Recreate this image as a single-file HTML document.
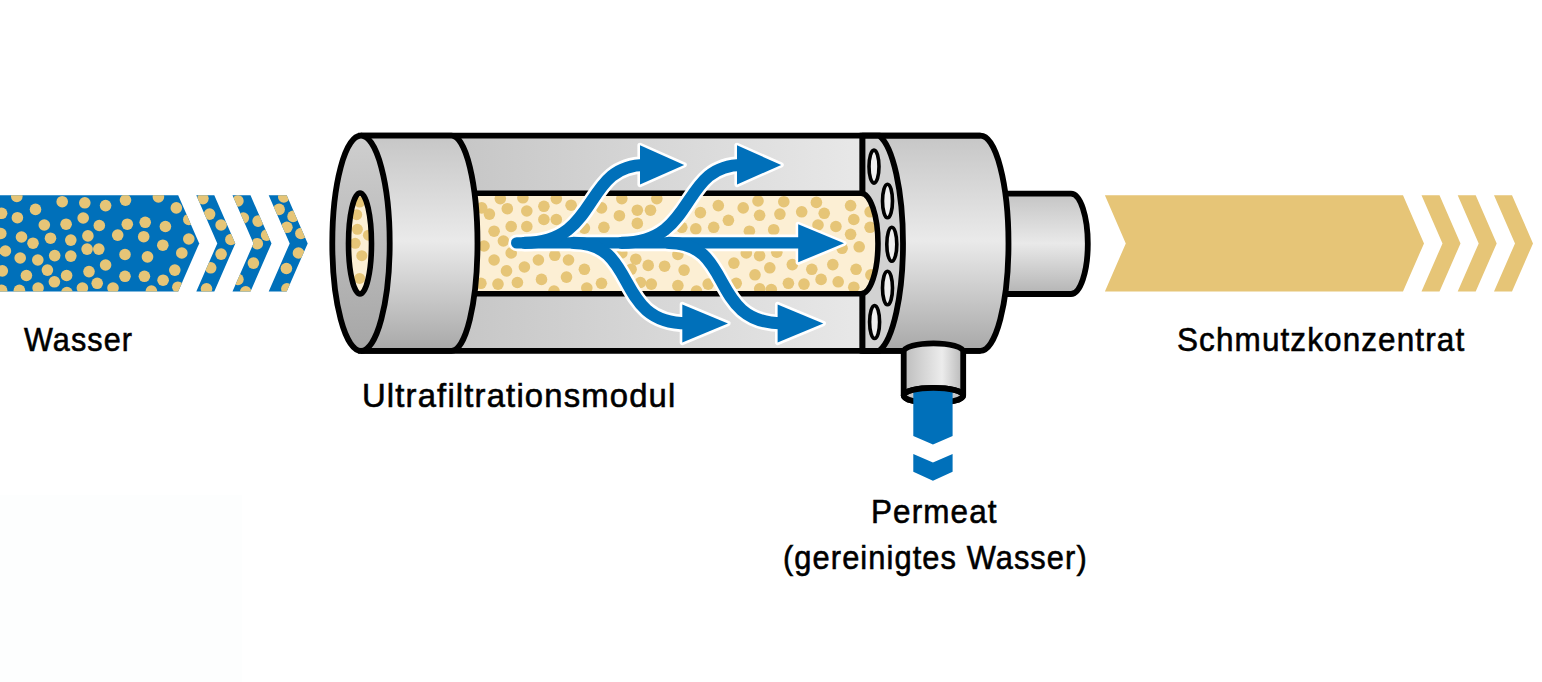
<!DOCTYPE html>
<html><head><meta charset="utf-8"><style>
html,body{margin:0;padding:0;background:#fff;width:1542px;height:682px;overflow:hidden}
.t{position:absolute;font-family:"Liberation Sans",sans-serif;color:#000;white-space:nowrap;line-height:1;transform-origin:0 0;-webkit-text-stroke:0.6px #000;font-size:34px;letter-spacing:1.2px}
svg{position:absolute;left:0;top:0}
</style></head><body>
<svg width="1542" height="682" viewBox="0 0 1542 682">
<defs>
  <clipPath id="cb"><polygon points="0,195.3 178.2,195.3 199.2,243.4 178.2,291.5 0,291.5"/><polygon points="196.3,195.3 214.3,195.3 235.3,243.4 214.3,291.5 196.3,291.5 217.3,243.4"/><polygon points="232.5,195.3 250.5,195.3 271.5,243.4 250.5,291.5 232.5,291.5 253.5,243.4"/><polygon points="268.7,195.3 286.7,195.3 307.7,243.4 286.7,291.5 268.7,291.5 289.7,243.4"/></clipPath>
  <clipPath id="cf"><path d="M440,193.2 H861 A17,50.3 0 0 1 861,293.8 H440 Z"/></clipPath>
  <clipPath id="ch"><ellipse cx="360" cy="243.5" rx="11.5" ry="50.5"/></clipPath>
  <linearGradient id="gcap" x1="0" y1="135" x2="0" y2="351" gradientUnits="userSpaceOnUse">
    <stop offset="0" stop-color="#c6c6c6"/>
    <stop offset="0.49" stop-color="#eaeaea"/>
    <stop offset="1" stop-color="#a8a8a8"/>
  </linearGradient>
  <linearGradient id="gface" x1="0" y1="135" x2="0" y2="351" gradientUnits="userSpaceOnUse">
    <stop offset="0" stop-color="#cfcfcf"/>
    <stop offset="1" stop-color="#a6a6a6"/>
  </linearGradient>
  <linearGradient id="ghouse" x1="455" y1="0" x2="862" y2="0" gradientUnits="userSpaceOnUse">
    <stop offset="0" stop-color="#c6c6c6"/>
    <stop offset="1" stop-color="#e8e8e8"/>
  </linearGradient>
  <linearGradient id="gout" x1="0" y1="193" x2="0" y2="294" gradientUnits="userSpaceOnUse">
    <stop offset="0" stop-color="#c4c4c4"/>
    <stop offset="0.5" stop-color="#e9e9e9"/>
    <stop offset="1" stop-color="#b4b4b4"/>
  </linearGradient>
  <linearGradient id="gperm" x1="903" y1="0" x2="963" y2="0" gradientUnits="userSpaceOnUse">
    <stop offset="0" stop-color="#bcbcbc"/>
    <stop offset="0.65" stop-color="#ececec"/>
    <stop offset="1" stop-color="#b8b8b8"/>
  </linearGradient>
</defs>

<rect x="0" y="495" width="242" height="187" fill="#fdfefe"/>
<g fill="#0070ba"><polygon points="0,195.3 178.2,195.3 199.2,243.4 178.2,291.5 0,291.5"/><polygon points="196.3,195.3 214.3,195.3 235.3,243.4 214.3,291.5 196.3,291.5 217.3,243.4"/><polygon points="232.5,195.3 250.5,195.3 271.5,243.4 250.5,291.5 232.5,291.5 253.5,243.4"/><polygon points="268.7,195.3 286.7,195.3 307.7,243.4 286.7,291.5 268.7,291.5 289.7,243.4"/></g>
<g clip-path="url(#cb)" fill="#e6c577"><circle cx="16.8" cy="196.5" r="5.8"/><circle cx="62.2" cy="201.7" r="5.8"/><circle cx="84.8" cy="202.8" r="5.8"/><circle cx="35.5" cy="209.4" r="5.8"/><circle cx="1.6" cy="213.3" r="5.8"/><circle cx="17.4" cy="217.7" r="5.8"/><circle cx="83.2" cy="218" r="5.8"/><circle cx="44.3" cy="225" r="5.8"/><circle cx="66.1" cy="224.2" r="5.8"/><circle cx="99.3" cy="225.5" r="5.8"/><circle cx="0.8" cy="233.5" r="5.8"/><circle cx="21.5" cy="237" r="5.8"/><circle cx="50.5" cy="238.2" r="5.8"/><circle cx="70.8" cy="240.1" r="5.8"/><circle cx="87.9" cy="235.9" r="5.8"/><circle cx="33" cy="243.2" r="5.8"/><circle cx="5.4" cy="251" r="5.8"/><circle cx="20.2" cy="258" r="5.8"/><circle cx="37.8" cy="260" r="5.8"/><circle cx="54.7" cy="255.6" r="5.8"/><circle cx="70.8" cy="256.1" r="5.8"/><circle cx="87.1" cy="249.1" r="5.8"/><circle cx="98.8" cy="249.1" r="5.8"/><circle cx="2.3" cy="270.9" r="5.8"/><circle cx="47.4" cy="270.1" r="5.8"/><circle cx="26.4" cy="275.5" r="5.8"/><circle cx="66.6" cy="275.5" r="5.8"/><circle cx="89" cy="271.6" r="5.8"/><circle cx="54.4" cy="281.8" r="5.8"/><circle cx="97.2" cy="283.3" r="5.8"/><circle cx="38.1" cy="288" r="5.8"/><circle cx="19.4" cy="290.3" r="5.8"/><circle cx="82.4" cy="288" r="5.8"/><circle cx="1.6" cy="290.3" r="5.8"/><circle cx="66.9" cy="292.6" r="5.8"/><circle cx="105.6" cy="205.6" r="5.8"/><circle cx="125.5" cy="200.1" r="5.8"/><circle cx="158.4" cy="197" r="5.8"/><circle cx="176.3" cy="207.9" r="5.8"/><circle cx="127.3" cy="224.2" r="5.8"/><circle cx="145.2" cy="222.3" r="5.8"/><circle cx="165.4" cy="226.5" r="5.8"/><circle cx="188.8" cy="219.5" r="5.8"/><circle cx="117.7" cy="235.1" r="5.8"/><circle cx="143.7" cy="236.7" r="5.8"/><circle cx="162.8" cy="245.2" r="5.8"/><circle cx="188.8" cy="239" r="5.8"/><circle cx="125" cy="254.5" r="5.8"/><circle cx="147.5" cy="256.9" r="5.8"/><circle cx="181.8" cy="253" r="5.8"/><circle cx="105.6" cy="265" r="5.8"/><circle cx="174.8" cy="270.1" r="5.8"/><circle cx="125" cy="276.3" r="5.8"/><circle cx="144.4" cy="276.3" r="5.8"/><circle cx="163.1" cy="280.2" r="5.8"/><circle cx="113" cy="288" r="5.8"/><circle cx="151.4" cy="291.1" r="5.8"/><circle cx="177.9" cy="287.2" r="5.8"/><circle cx="202.9" cy="198.6" r="5.8"/><circle cx="209.6" cy="214.1" r="5.8"/><circle cx="221.1" cy="225" r="5.8"/><circle cx="230.9" cy="239.5" r="5.8"/><circle cx="221.1" cy="254.1" r="5.8"/><circle cx="210.7" cy="267.8" r="5.8"/><circle cx="206.5" cy="288.8" r="5.8"/><circle cx="237.9" cy="200.9" r="5.8"/><circle cx="243.3" cy="218" r="5.8"/><circle cx="258.1" cy="221.1" r="5.8"/><circle cx="266.6" cy="235.1" r="5.8"/><circle cx="257.3" cy="243.7" r="5.8"/><circle cx="253.4" cy="263.1" r="5.8"/><circle cx="237.9" cy="279.4" r="5.8"/><circle cx="245.7" cy="291.9" r="5.8"/><circle cx="283.8" cy="197" r="5.8"/><circle cx="279.1" cy="209.4" r="5.8"/><circle cx="293.1" cy="216.4" r="5.8"/><circle cx="286.9" cy="227.3" r="5.8"/><circle cx="300.9" cy="233.5" r="5.8"/><circle cx="298.5" cy="253" r="5.8"/><circle cx="286.4" cy="268.5" r="5.8"/><circle cx="286.9" cy="288.8" r="5.8"/></g>

<g fill="#e6c577"><polygon points="1104.9,195.3 1403,195.3 1424,243.4 1403,291.5 1104.9,291.5 1125.8,243.4"/><polygon points="1421.5,195.3 1439.5,195.3 1460.5,243.4 1439.5,291.5 1421.5,291.5 1442.5,243.4"/><polygon points="1457.7,195.3 1475.7,195.3 1496.7,243.4 1475.7,291.5 1457.7,291.5 1478.7,243.4"/><polygon points="1494,195.3 1512,195.3 1533,243.4 1512,291.5 1494,291.5 1515,243.4"/></g>

<path d="M1000,193.6 H1071 A16.8,50.2 0 0 1 1071,294 H1000 Z" fill="url(#gout)" stroke="#000" stroke-width="5.8"/>


<path d="M451.5,135.7 H862.5 V350.8 H451.5 Z" fill="url(#ghouse)"/>

<path d="M862.5,135.7 H980.5 A28,107.55 0 0 1 980.5,350.8 H862.5 Z" fill="url(#gcap)" stroke="#000" stroke-width="5.8" stroke-linejoin="round"/>
<path d="M862.5,135.7 H879.3 A30,110 0 0 1 879.3,350.8 H862.5 Z" fill="#d2d2d2" stroke="#000" stroke-width="5.8"/>
<g fill="#efefef" stroke="#000" stroke-width="3.6">
  <ellipse cx="874" cy="166.6" rx="5" ry="16.5"/>
  <ellipse cx="887.5" cy="201" rx="5" ry="16.8"/>
  <ellipse cx="891.8" cy="244.3" rx="5" ry="17"/>
  <ellipse cx="887.5" cy="288" rx="5" ry="16.8"/>
  <ellipse cx="874.6" cy="322" rx="5" ry="16.5"/>
</g>

<path d="M440,193.2 H861 A17,50.3 0 0 1 861,293.8 H440 Z" fill="#fcefd4"/>
<g clip-path="url(#cf)" fill="#e6c577"><circle cx="500.3" cy="198.6" r="5.8"/><circle cx="522.9" cy="197.8" r="5.8"/><circle cx="556.3" cy="198.6" r="5.8"/><circle cx="507.3" cy="208.7" r="5.8"/><circle cx="526.8" cy="211" r="5.8"/><circle cx="543.9" cy="206.3" r="5.8"/><circle cx="481.7" cy="207.9" r="5.8"/><circle cx="489.4" cy="214.1" r="5.8"/><circle cx="543.9" cy="219.5" r="5.8"/><circle cx="556.3" cy="219.5" r="5.8"/><circle cx="511.2" cy="226.5" r="5.8"/><circle cx="526.8" cy="226.5" r="5.8"/><circle cx="494.1" cy="231.2" r="5.8"/><circle cx="503.4" cy="241" r="5.8"/><circle cx="484" cy="246" r="5.8"/><circle cx="511.2" cy="253" r="5.8"/><circle cx="494.1" cy="260" r="5.8"/><circle cx="538.4" cy="260" r="5.8"/><circle cx="554.8" cy="255.3" r="5.8"/><circle cx="568.5" cy="260.0" r="5.8"/><circle cx="524.4" cy="267" r="5.8"/><circle cx="506.5" cy="270.9" r="5.8"/><circle cx="480.9" cy="283.3" r="5.8"/><circle cx="498" cy="284.1" r="5.8"/><circle cx="517.4" cy="282.5" r="5.8"/><circle cx="541.5" cy="279.4" r="5.8"/><circle cx="566.5" cy="277.1" r="5.8"/><circle cx="554" cy="291.1" r="5.8"/><circle cx="571.1" cy="205.2" r="5.8"/><circle cx="601.5" cy="207.9" r="5.8"/><circle cx="621.8" cy="198.6" r="5.8"/><circle cx="656.8" cy="198.6" r="5.8"/><circle cx="619.4" cy="215.7" r="5.8"/><circle cx="637.3" cy="210.2" r="5.8"/><circle cx="650.5" cy="210.2" r="5.8"/><circle cx="637.3" cy="223.4" r="5.8"/><circle cx="603.9" cy="227.3" r="5.8"/><circle cx="584.4" cy="228.1" r="5.8"/><circle cx="584.4" cy="269.3" r="5.8"/><circle cx="586.8" cy="288" r="5.8"/><circle cx="601.5" cy="283.3" r="5.8"/><circle cx="621.8" cy="253" r="5.8"/><circle cx="635.8" cy="259.2" r="5.8"/><circle cx="648.2" cy="265.4" r="5.8"/><circle cx="631.1" cy="269.3" r="5.8"/><circle cx="640.4" cy="282.5" r="5.8"/><circle cx="651.3" cy="284.1" r="5.8"/><circle cx="664.6" cy="266.2" r="5.8"/><circle cx="718.3" cy="205.6" r="5.8"/><circle cx="743.2" cy="207.9" r="5.8"/><circle cx="758.0" cy="200.9" r="5.8"/><circle cx="700.4" cy="212.6" r="5.8"/><circle cx="728.4" cy="220.3" r="5.8"/><circle cx="713.7" cy="227.3" r="5.8"/><circle cx="695.8" cy="228.9" r="5.8"/><circle cx="681.8" cy="227.3" r="5.8"/><circle cx="749.4" cy="231.2" r="5.8"/><circle cx="759.6" cy="215.3" r="5.8"/><circle cx="684.1" cy="270.1" r="5.8"/><circle cx="677.9" cy="285.6" r="5.8"/><circle cx="696.5" cy="291.1" r="5.8"/><circle cx="677.9" cy="254.5" r="5.8"/><circle cx="708.2" cy="284.1" r="5.8"/><circle cx="733.9" cy="263.1" r="5.8"/><circle cx="746.3" cy="253" r="5.8"/><circle cx="755.0" cy="274.8" r="5.8"/><circle cx="736.2" cy="283.3" r="5.8"/><circle cx="759.6" cy="255.7" r="5.8"/><circle cx="783.8" cy="201.7" r="5.8"/><circle cx="816.4" cy="202.4" r="5.8"/><circle cx="850.6" cy="205.6" r="5.8"/><circle cx="779.9" cy="214.1" r="5.8"/><circle cx="801.7" cy="211.8" r="5.8"/><circle cx="824.2" cy="213.3" r="5.8"/><circle cx="870.1" cy="211.8" r="5.8"/><circle cx="773.7" cy="229.7" r="5.8"/><circle cx="818" cy="225" r="5.8"/><circle cx="835.9" cy="226.5" r="5.8"/><circle cx="853.8" cy="219.5" r="5.8"/><circle cx="870.1" cy="227.3" r="5.8"/><circle cx="850.6" cy="234.3" r="5.8"/><circle cx="859.2" cy="246.8" r="5.8"/><circle cx="776.8" cy="252.2" r="5.8"/><circle cx="769.8" cy="267.8" r="5.8"/><circle cx="792.3" cy="264.6" r="5.8"/><circle cx="811.8" cy="269.3" r="5.8"/><circle cx="832.8" cy="264.6" r="5.8"/><circle cx="856.1" cy="269.3" r="5.8"/><circle cx="788.4" cy="283.3" r="5.8"/><circle cx="804" cy="284.1" r="5.8"/><circle cx="821.1" cy="279.4" r="5.8"/><circle cx="838.2" cy="281.8" r="5.8"/><circle cx="853.8" cy="287.2" r="5.8"/><circle cx="759.7" cy="288.8" r="5.8"/><circle cx="771.3" cy="289.5" r="5.8"/><circle cx="870.9" cy="274.8" r="5.8"/><circle cx="842.1" cy="248.3" r="5.8"/></g>
<path d="M440,193.2 H861 A17,50.3 0 0 1 861,293.8 H440 Z" fill="none" stroke="#000" stroke-width="5.6"/>

<path d="M361,135.7 H980.5 M361,350.8 H980.5" stroke="#000" stroke-width="5.8"/>
<path d="M903.7,351.5 A29.75,8.2 0 0 1 963.2,351.5 V395.4 A29.75,7.6 0 0 1 903.7,395.4 Z" fill="url(#gperm)" stroke="#000" stroke-width="5.8"/>
<ellipse cx="933.45" cy="395.4" rx="29.75" ry="7.6" fill="#c6c6c6" stroke="#000" stroke-width="5.8"/>

<path d="M361,135.7 H451.5 A26,107.55 0 0 1 451.5,350.8 H361 Z" fill="url(#gcap)" stroke="#000" stroke-width="5.8"/>
<ellipse cx="361" cy="243.25" rx="28.7" ry="107.55" fill="url(#gface)" stroke="#000" stroke-width="5.8"/>
<ellipse cx="360" cy="243.5" rx="11.5" ry="50.5" fill="#fcefd4"/>
<g clip-path="url(#ch)" fill="#e6c577"><circle cx="356.7" cy="214.7" r="5.5"/><circle cx="357.4" cy="229.3" r="5.5"/><circle cx="355.2" cy="243.3" r="5.5"/><circle cx="361.8" cy="255.7" r="5.5"/><circle cx="359.6" cy="278.4" r="5.5"/><circle cx="368.4" cy="235.2" r="5.5"/><circle cx="359.6" cy="202" r="5.5"/></g>
<ellipse cx="360" cy="243.5" rx="11.5" ry="50.5" fill="none" stroke="#000" stroke-width="5.6"/>

<g fill="none" stroke-linecap="round" stroke="#fff"><path d="M516.7,242.9 H800" stroke-width="16.6"/><path d="M524.7,242.9 C600.2,242.9 582.5,165 645.0,165" stroke-width="17.4"/><path d="M621.7,242.9 C697.2,242.9 679.5,165 742.0,165" stroke-width="17.4"/><path d="M573.4,242.9 C639.2,242.9 613.2,323.3 687.0,323.3" stroke-width="17.4"/><path d="M668.7,242.9 C734.5,242.9 708.5,323.3 782.3,323.3" stroke-width="17.4"/></g>
<g fill="#fff" stroke="#fff" stroke-width="5.2" stroke-linejoin="round"><polygon points="640,145.3 684.2,164.9 640,184.5"/><polygon points="737,145.3 781.2,164.9 737,184.5"/><polygon points="798.2,224.3 844,243.3 798.2,262.3"/><polygon points="682.3,304.4 728,323.5 682.3,342.6"/><polygon points="777.6,304.4 823.3,323.5 777.6,342.6"/></g>
<g fill="none" stroke-linecap="round" stroke="#0070ba"><path d="M516.7,242.9 H800" stroke-width="11.4"/><path d="M524.7,242.9 C600.2,242.9 582.5,165 645.0,165" stroke-width="12.2"/><path d="M621.7,242.9 C697.2,242.9 679.5,165 742.0,165" stroke-width="12.2"/><path d="M573.4,242.9 C639.2,242.9 613.2,323.3 687.0,323.3" stroke-width="12.2"/><path d="M668.7,242.9 C734.5,242.9 708.5,323.3 782.3,323.3" stroke-width="12.2"/></g>
<g fill="#0070ba"><polygon points="640,145.3 684.2,164.9 640,184.5"/><polygon points="737,145.3 781.2,164.9 737,184.5"/><polygon points="798.2,224.3 844,243.3 798.2,262.3"/><polygon points="682.3,304.4 728,323.5 682.3,342.6"/><polygon points="777.6,304.4 823.3,323.5 777.6,342.6"/></g>

<path d="M913.3,388 H952.6 V435.9 L932.95,444.6 L913.3,435.9 Z" fill="#0070ba"/>
<path d="M913.3,453.9 L932.95,462.6 L952.6,453.9 V471.8 L932.95,480.8 L913.3,471.8 Z" fill="#0070ba"/>
<path d="M903.7,395.4 A29.75,7.6 0 0 1 963.2,395.4" fill="none" stroke="#000" stroke-width="5.8"/>
</svg>
<div class="t" style="left:24px;top:321.6px;transform:scaleX(0.900)">Wasser</div>
<div class="t" style="left:362.1px;top:377.8px;transform:scaleX(0.9657)">Ultrafiltrationsmodul</div>
<div class="t" style="left:1177.1px;top:321.5px;transform:scaleX(0.9256)">Schmutzkonzentrat</div>
<div class="t" style="left:871.2px;top:493.8px;transform:scaleX(0.925)">Permeat</div>
<div class="t" style="left:783.2px;top:539.6px;transform:scaleX(0.906)">(gereinigtes Wasser)</div>
</body></html>
